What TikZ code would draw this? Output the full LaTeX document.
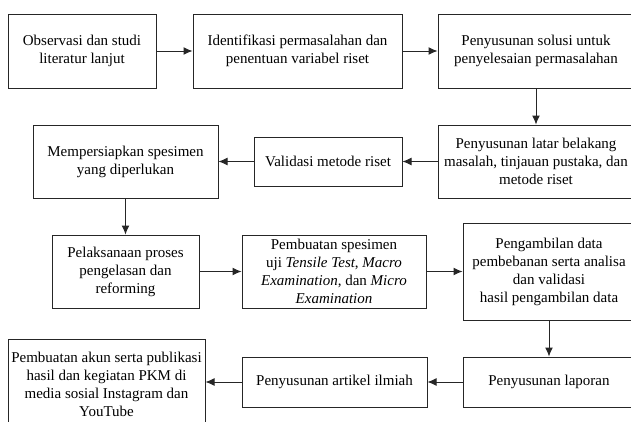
\documentclass[tikz,border=0pt]{standalone}
\usepackage{fontspec}
\setmainfont{Liberation Serif}
\usetikzlibrary{arrows.meta}

\begin{document}
\begin{tikzpicture}[x=1pt, y=-1pt,
	procbox/.style={draw=black!85, line width=1pt, align=center, inner sep=0pt, font=\fontsize{15}{18}\selectfont},
	flow/.style={draw=black!85, -{Latex[length=9pt,width=8pt]}, line width=1pt}]
	\useasboundingbox (0,0) rectangle (631,421);
	\clip (0,0) rectangle (631,421);
	% first row
	\node[procbox, minimum width=148pt, minimum height=74pt] (obs) at (82,51) {Observasi dan studi\\literatur lanjut};
	\node[procbox, minimum width=209pt, minimum height=74pt] (ident) at (297.5,51) {Identifikasi permasalahan dan\\penentuan variabel riset};
	\node[procbox, minimum width=196pt, minimum height=74pt] (solusi) at (536,51) {Penyusunan solusi untuk\\penyelesaian permasalahan};
	% second row
	\node[procbox, minimum width=196pt, minimum height=73pt] (latar) at (536,161.5) {Penyusunan latar belakang\\masalah, tinjauan pustaka, dan\\metode riset};
	\node[procbox, minimum width=148pt, minimum height=49pt] (valid) at (328,161.5) {Validasi metode riset};
	\node[procbox, minimum width=185pt, minimum height=73pt] (siap) at (125.5,161.5) {Mempersiapkan spesimen\\yang diperlukan};
	% third row
	\node[procbox, minimum width=147pt, minimum height=73pt] (laksana) at (125.5,271.5) {Pelaksanaan proses\\pengelasan dan\\reforming};
	\node[procbox, minimum width=184pt, minimum height=73pt] (spesimen) at (334,271.5) {Pembuatan spesimen\\uji \textit{Tensile Test}, \textit{Macro}\\\textit{Examination}, dan \textit{Micro}\\\textit{Examination}};
	\node[procbox, minimum width=172pt, minimum height=97pt] (ambil) at (549,271.5) {Pengambilan data\\pembebanan serta analisa\\dan validasi\\hasil pengambilan data};
	% fourth row
	\node[procbox, minimum width=172pt, minimum height=50pt] (lapor) at (549,382) {Penyusunan laporan};
	\node[procbox, minimum width=185pt, minimum height=50pt] (artikel) at (334.5,382) {Penyusunan artikel ilmiah};
	\node[procbox, minimum width=197pt, minimum height=90pt] (akun) at (106.5,384) {Pembuatan akun serta publikasi\\hasil dan kegiatan PKM di\\media sosial Instagram dan\\YouTube};
	% connectors
	\draw[flow] (obs) -- (ident);
	\draw[flow] (ident) -- (solusi);
	\draw[flow] (solusi) -- (latar);
	\draw[flow] (latar) -- (valid);
	\draw[flow] (valid) -- (siap);
	\draw[flow] (siap) -- (laksana);
	\draw[flow] (laksana) -- (spesimen);
	\draw[flow] (spesimen) -- (ambil);
	\draw[flow] (ambil) -- (lapor);
	\draw[flow] (lapor) -- (artikel);
	\draw[flow] (artikel.west) -- (artikel.west -| akun.east);
\end{tikzpicture}
\end{document}
